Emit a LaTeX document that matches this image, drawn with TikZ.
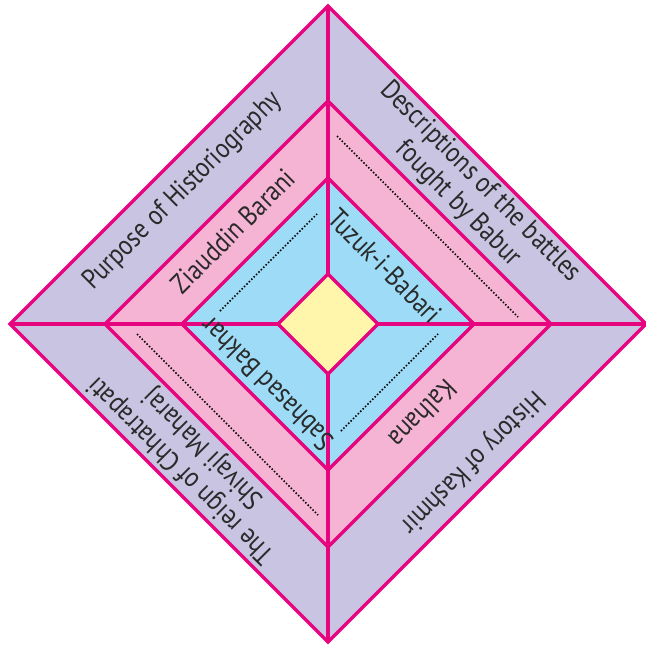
\documentclass[tikz,border=0pt]{standalone}
\usepackage{fontspec}
\setmainfont{PT Sans}[FakeStretch=0.86]
\definecolor{lav}{HTML}{C8C4E1}
\definecolor{pinkb}{HTML}{F5B4D3}
\definecolor{blueb}{HTML}{9DDBF6}
\definecolor{yel}{HTML}{FFF6AB}
\definecolor{mag}{HTML}{E6047F}
\definecolor{txt}{HTML}{2A2A2A}
\tikzset{
  edge/.style={draw=mag,line width=3.4pt,line join=miter},
  lbl/.style={text=txt,font=\fontsize{28}{31}\selectfont,inner sep=0pt,align=center},
  dots/.style={draw=black,line width=1.6pt,dash pattern=on 1.5pt off 1.9pt}
}
\begin{document}
\begin{tikzpicture}[x=1pt,y=-1pt]
\useasboundingbox (0,0) rectangle (646,645);
\coordinate (c) at (328,324);
% diamonds
\path[fill=lav] (328,6) -- (646,324) -- (328,642) -- (10,324) -- cycle;
\path[fill=pinkb] (328,101) -- (551,324) -- (328,547) -- (105,324) -- cycle;
\path[fill=blueb] (328,178) -- (474,324) -- (328,470) -- (182,324) -- cycle;
\coordinate (T) at (328,6);
\coordinate (B) at (328,642);
\coordinate (L) at (10,324);
\coordinate (R) at (646,324);
\draw[edge] (T) -- (B);
\draw[edge] (L) -- (R);
\draw[edge] (328,6) -- (646,324) -- (328,642) -- (10,324) -- cycle;
\draw[edge] (328,101) -- (551,324) -- (328,547) -- (105,324) -- cycle;
\draw[edge] (328,178) -- (474,324) -- (328,470) -- (182,324) -- cycle;
\draw[edge,fill=yel] (328,274) -- (378,324) -- (328,374) -- (278,324) -- cycle;
% dotted lines
\coordinate (d1a) at (337,136); \coordinate (d1b) at (518,317);
\coordinate (d2a) at (220,311); \coordinate (d2b) at (317,214);
\coordinate (d3a) at (137,334); \coordinate (d3b) at (318,515);
\coordinate (d4a) at (341,431); \coordinate (d4b) at (438,334);
\draw[dots] (d1a) -- (d1b);
\draw[dots] (d2a) -- (d2b);
\draw[dots] (d3a) -- (d3b);
\draw[dots] (d4a) -- (d4b);
% labels
\node[lbl,rotate=45] (purpose) at (183,191) {Purpose of Historiography};
\node[lbl,rotate=45] (barani) at (233,231) {Ziauddin Barani};
\node[lbl,rotate=-45] (descr) at (469,193) {Descriptions of the battles\\fought by Babur};
\node[lbl,rotate=-45] (tuzuk) at (385,266) {Tuzuk-i-Babari};
\node[lbl,rotate=225] (kashmir) at (472,462) {History of Kashmir};
\node[lbl,rotate=225] (kalhana) at (423,414) {Kalhana};
\node[lbl,rotate=135] (reign) at (193,459) {The reign of Chhatrapati\\Shivaji Maharaj};
\node[lbl,rotate=135] (bakhar) at (267,384) {Sabhasad Bakhar};
\end{tikzpicture}
\end{document}
